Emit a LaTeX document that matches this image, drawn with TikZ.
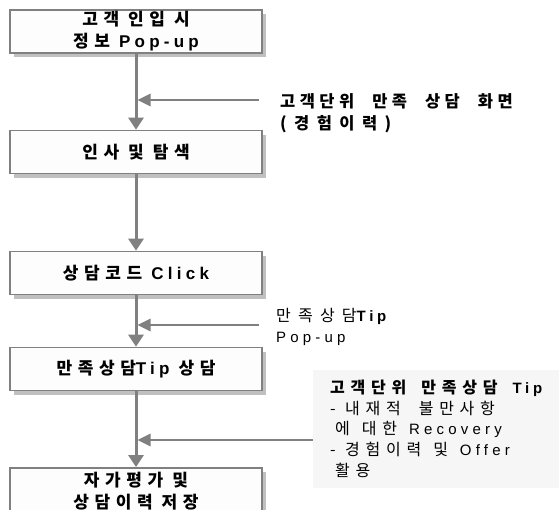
\documentclass[tikz,border=0pt]{standalone}
\usepackage{fontspec}
\setmainfont{Noto Sans CJK KR}
\newfontfamily\krbox[LetterSpace=33]{Noto Sans CJK KR}
\newfontfamily\krlabA[LetterSpace=27]{Noto Sans CJK KR}
\newfontfamily\krlabB[LetterSpace=45]{Noto Sans CJK KR}
\newfontfamily\krtip[LetterSpace=36]{Noto Sans CJK KR}
\newfontfamily\latwide[LetterSpace=25]{Liberation Sans}
\newfontfamily\latvwide[LetterSpace=28]{Liberation Sans}
\newcommand\Lat[1]{{\latwide #1}}
\newcommand\Latw[1]{{\latvwide #1}}
\newcommand\ws{\hspace{9pt}}
\newcommand\wsl{\hspace{12pt}}
\newcommand\wsw{\hspace{18pt}}
\usetikzlibrary{arrows.meta,shadows,calc}
\definecolor{lineg}{HTML}{808080}
\definecolor{shad}{HTML}{C0C0C0}
\definecolor{boxf}{HTML}{FDFDFD}
\definecolor{tipf}{HTML}{F6F6F6}
\tikzset{
  flowbox/.style={draw=lineg, line width=1.6pt, fill=boxf,
    minimum width=252pt, minimum height=43pt, inner sep=0pt, align=center,
    font=\krbox\bfseries\fontsize{17}{22}\selectfont,
    drop shadow={shadow xshift=4pt, shadow yshift=-4pt, fill=shad, opacity=1}},
  conn/.style={draw=lineg, line width=3pt, -{Triangle[length=12pt,width=15pt]}},
  hconn/.style={draw=lineg, line width=2.7pt, -{Triangle[length=13pt,width=12pt]}},
  sidelabel/.style={anchor=west, align=left, inner sep=0pt},
  tipbg/.style={fill=tipf, draw=none, minimum width=246pt, minimum height=118pt, inner sep=0pt, anchor=north west},
}
\begin{document}
\begin{tikzpicture}[x=1pt,y=-1pt]
\useasboundingbox[fill=white] (0,0) rectangle (559,509);

\node[flowbox] (b1) at (136,31.5) {고객\ws 인입\ws 시\\정보\ws\Lat{Pop-up}};
\node[flowbox] (b2) at (136,152) {인사\ws 및\ws 탐색};
\node[flowbox] (b3) at (136,273) {상담코드\ws\Lat{Click}};
\node[flowbox] (b4) at (136,369) {만족상담\Lat{Tip}\ws 상담};
\node[flowbox, minimum height=46pt, anchor=north] (b5) at (136,467) {자가평가\ws 및\\상담이력\ws 저장};

\draw[conn] (b1.south) -- (b2.north);
\draw[conn] (b2.south) -- (b3.north);
\draw[conn] (b3.south) -- (b4.north);
\draw[conn] (b4.south) -- (b5.north);

% side labels
\node[sidelabel, font=\krlabA\bfseries\fontsize{16.5}{22.5}\selectfont] (lab1) at (280,113)
  {고객단위\wsw 만족\wsw 상담\wsw 화면\\{\krlabB (경험이력)}};
\node[sidelabel, font=\krlabB\fontsize{16}{21}\selectfont] (lab2) at (276,327)
  {만족상담{\latwide\bfseries\fontsize{15}{21}\selectfont Tip}\\{\latvwide\fontsize{15}{21}\selectfont Pop-up}};

% tip box
\node[tipbg] (tipbox) at (313,370) {};
\node[anchor=north west, align=left, inner sep=0pt, font=\krtip\fontsize{16}{20.6}\selectfont] (tiptext) at (330,380)
  {{\bfseries 고객단위\hspace{15pt}만족상담\hspace{15pt}{\latwide\bfseries\fontsize{15}{20.6}\selectfont Tip}}\\
   - 내재적\wsw 불만사항\\
   \hspace{5pt}에\wsl 대한\wsl\Latw{\fontsize{15}{20.6}\selectfont Recovery}\\
   - 경험이력\wsl 및\wsl\Latw{\fontsize{15}{20.6}\selectfont Offer}\\
   \hspace{5pt}활용};

\coordinate (h1) at (259,100);
\coordinate (h2) at (259,325);
\coordinate (h3) at (313,440);
\draw[hconn] (h1) -- ($(h1 -| b1.south)+(1.5,0)$);
\draw[hconn] (h2) -- ($(h2 -| b3.south)+(1.5,0)$);
\draw[hconn] (h3) -- ($(h3 -| b4.south)+(1.5,0)$);
\end{tikzpicture}
\end{document}
